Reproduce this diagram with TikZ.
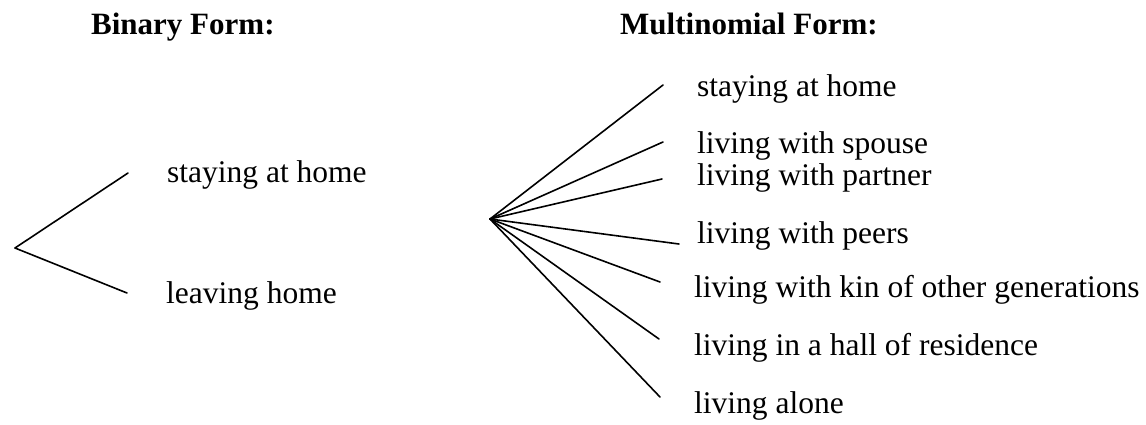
\documentclass[tikz,border=0pt]{standalone}
\usepackage{fontspec}
\setmainfont{Liberation Serif}
\begin{document}
\begin{tikzpicture}[x=1pt,y=-1pt,
  lbl/.style={anchor=base west,inner sep=0pt,font=\fontsize{31.5}{36}\selectfont},
  hdr/.style={anchor=base west,inner sep=0pt,font=\fontsize{31}{36}\selectfont\bfseries},
  branch/.style={line width=1.6pt,line cap=round}]
\useasboundingbox (0,0) rectangle (1146,424);

% headings
\node[hdr] (hbin) at (91,34) {Binary Form:};
\node[hdr] (hmul) at (620,34) {Multinomial Form:};

% binary tree
\coordinate (broot) at (15,248);
\coordinate (b1) at (128,173);
\coordinate (b2) at (127,293);
\node[lbl] (bl1) at (167,182) {staying at home};
\node[lbl] (bl2) at (166,303) {leaving home};
\draw[branch] (broot) -- (b1);
\draw[branch] (broot) -- (b2);

% multinomial tree
\coordinate (mroot) at (490,219);
\coordinate (m1) at (663,85);
\coordinate (m2) at (663,142);
\coordinate (m3) at (662,179);
\coordinate (m4) at (679,244);
\coordinate (m5) at (660,282);
\coordinate (m6) at (659,339);
\coordinate (m7) at (660,397);
\foreach \i in {1,...,7} \draw[branch] (mroot) -- (m\i);

\node[lbl] (ml1) at (697,96)  {staying at home};
\node[lbl] (ml2) at (697,153) {living with spouse};
\node[lbl] (ml3) at (697,185) {living with partner};
\node[lbl] (ml4) at (697,243) {living with peers};
\node[lbl] (ml5) at (694,297) {living with kin of other generations};
\node[lbl] (ml6) at (694,355) {living in a hall of residence};
\node[lbl] (ml7) at (694,413) {living alone};
\end{tikzpicture}
\end{document}
